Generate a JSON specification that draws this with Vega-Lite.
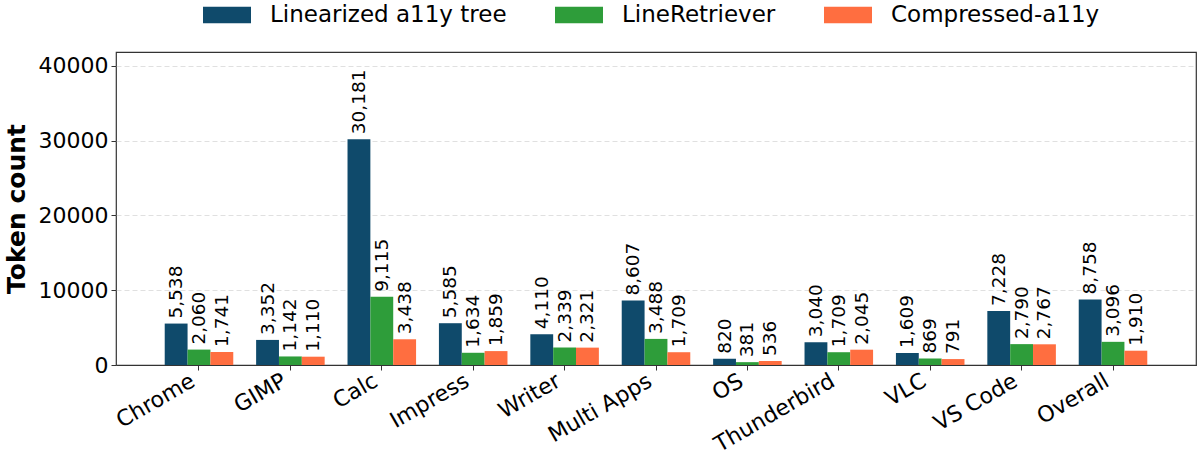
{
  "$schema": "https://vega.github.io/schema/vega-lite/v6.json",
  "autosize": "none",
  "width": 1080,
  "height": 313,
  "padding": {"left": 116, "top": 52, "right": 6, "bottom": 92},
  "background": "white",
  "config": {
    "font": "DejaVu Sans",
    "view": {"stroke": "#333333", "strokeWidth": 1.2},
    "axis": {"labelFont": "DejaVu Sans", "titleFont": "DejaVu Sans", "labelColor": "black", "titleColor": "black"}
  },
  "data": {
    "values": [
      {"app": "Chrome", "method": "Linearized a11y tree", "tokens": 5538},
      {"app": "Chrome", "method": "LineRetriever", "tokens": 2060},
      {"app": "Chrome", "method": "Compressed-a11y", "tokens": 1741},
      {"app": "GIMP", "method": "Linearized a11y tree", "tokens": 3352},
      {"app": "GIMP", "method": "LineRetriever", "tokens": 1142},
      {"app": "GIMP", "method": "Compressed-a11y", "tokens": 1110},
      {"app": "Calc", "method": "Linearized a11y tree", "tokens": 30181},
      {"app": "Calc", "method": "LineRetriever", "tokens": 9115},
      {"app": "Calc", "method": "Compressed-a11y", "tokens": 3438},
      {"app": "Impress", "method": "Linearized a11y tree", "tokens": 5585},
      {"app": "Impress", "method": "LineRetriever", "tokens": 1634},
      {"app": "Impress", "method": "Compressed-a11y", "tokens": 1859},
      {"app": "Writer", "method": "Linearized a11y tree", "tokens": 4110},
      {"app": "Writer", "method": "LineRetriever", "tokens": 2339},
      {"app": "Writer", "method": "Compressed-a11y", "tokens": 2321},
      {"app": "Multi Apps", "method": "Linearized a11y tree", "tokens": 8607},
      {"app": "Multi Apps", "method": "LineRetriever", "tokens": 3488},
      {"app": "Multi Apps", "method": "Compressed-a11y", "tokens": 1709},
      {"app": "OS", "method": "Linearized a11y tree", "tokens": 820},
      {"app": "OS", "method": "LineRetriever", "tokens": 381},
      {"app": "OS", "method": "Compressed-a11y", "tokens": 536},
      {"app": "Thunderbird", "method": "Linearized a11y tree", "tokens": 3040},
      {"app": "Thunderbird", "method": "LineRetriever", "tokens": 1709},
      {"app": "Thunderbird", "method": "Compressed-a11y", "tokens": 2045},
      {"app": "VLC", "method": "Linearized a11y tree", "tokens": 1609},
      {"app": "VLC", "method": "LineRetriever", "tokens": 869},
      {"app": "VLC", "method": "Compressed-a11y", "tokens": 791},
      {"app": "VS Code", "method": "Linearized a11y tree", "tokens": 7228},
      {"app": "VS Code", "method": "LineRetriever", "tokens": 2790},
      {"app": "VS Code", "method": "Compressed-a11y", "tokens": 2767},
      {"app": "Overall", "method": "Linearized a11y tree", "tokens": 8758},
      {"app": "Overall", "method": "LineRetriever", "tokens": 3096},
      {"app": "Overall", "method": "Compressed-a11y", "tokens": 1910}
    ]
  },
  "encoding": {
    "x": {
      "field": "app",
      "type": "nominal",
      "sort": ["Chrome", "GIMP", "Calc", "Impress", "Writer", "Multi Apps", "OS", "Thunderbird", "VLC", "VS Code", "Overall"],
      "scale": {"paddingInner": 0, "paddingOuter": 0.408},
      "axis": {
        "title": null,
        "labelAngle": -30,
        "labelAlign": "right",
        "labelBaseline": "bottom",
        "labelFontSize": 22,
        "labelPadding": 19,
        "tickSize": 5,
        "tickColor": "#333333",
        "domain": true,
        "domainColor": "#333333",
        "domainWidth": 1.2,
        "grid": false
      }
    },
    "xOffset": {
      "field": "method",
      "type": "nominal",
      "scale": {"domain": ["Linearized a11y tree", "LineRetriever", "Compressed-a11y"], "paddingInner": 0, "paddingOuter": 0.5}
    },
    "y": {
      "field": "tokens",
      "type": "quantitative",
      "scale": {"domain": [0, 41830], "nice": false, "zero": true},
      "axis": {
        "title": "Token count",
        "titleFontSize": 25,
        "titleFontWeight": "bold",
        "titlePadding": 9,
        "values": [0, 10000, 20000, 30000, 40000],
        "format": "d",
        "labelFontSize": 22,
        "labelPadding": 3,
        "tickSize": 5,
        "tickColor": "#333333",
        "domain": false,
        "grid": true,
        "gridColor": "#e0e0e0",
        "gridDash": [5, 3],
        "gridWidth": 1
      }
    },
    "color": {
      "field": "method",
      "type": "nominal",
      "scale": {
        "domain": ["Linearized a11y tree", "LineRetriever", "Compressed-a11y"],
        "range": ["#0f4a6b", "#2e9d3a", "#ff6e40"]
      },
      "legend": {
        "title": null,
        "orient": "none",
        "direction": "horizontal",
        "legendX": 87,
        "legendY": -61,
        "padding": 0,
        "symbolType": "M-1,-0.34H1V0.34H-1Z",
        "symbolSize": 2304,
        "symbolStrokeWidth": 0,
        "symbolOpacity": 1,
        "labelFontSize": 23,
        "labelLimit": 500,
        "labelColor": "black",
        "labelOffset": 19,
        "columnPadding": 48
      }
    }
  },
  "layer": [
    {"mark": {"type": "bar", "opacity": 1}},
    {
      "mark": {"type": "text", "angle": -90, "align": "left", "baseline": "middle", "dx": 5, "fontSize": 18.5, "color": "black"},
      "encoding": {
        "text": {"field": "tokens", "type": "quantitative", "format": ",d"},
        "color": {"value": "black"}
      }
    }
  ]
}
